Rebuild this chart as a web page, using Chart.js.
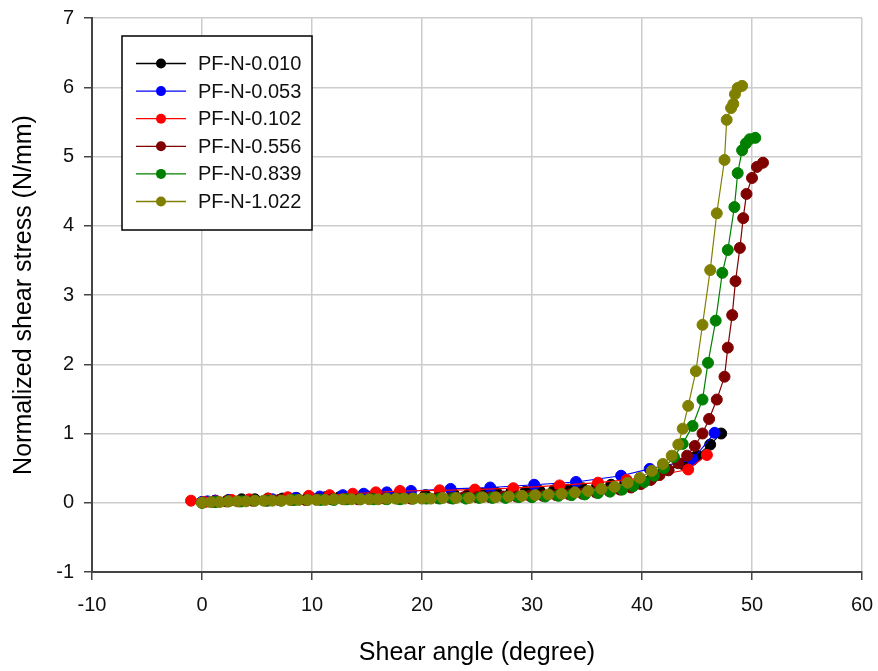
<!DOCTYPE html>
<html>
<head>
<meta charset="utf-8">
<script src="https://cdn.jsdelivr.net/npm/chart.js@4.4.0/dist/chart.umd.min.js"></script>
<style>
  body { margin: 0; background: #fff; }
  canvas { display: block; }
</style>
</head>
<body>
<canvas id="nchart" width="878" height="671"></canvas>
<script>
// shear angle (deg) and normalized shear stress (N/mm) for each sample
const labels = ["PF-N-0.010", "PF-N-0.053", "PF-N-0.102", "PF-N-0.556", "PF-N-0.839", "PF-N-1.022"];
const colors = ["#000000", "#0000ff", "#ff0000", "#800000", "#008000", "#808000"];

const angle010 = [0, 1.2, 2.4, 3.6, 4.8, 6.0, 7.3, 8.6, 9.9, 11.2, 12.5, 13.8, 15.1, 16.4, 17.7, 19.0, 20.3, 21.6, 22.9, 24.2,
  25.5, 26.8, 28.1, 29.4, 30.7, 32.0, 33.3, 34.6, 35.9, 37.2, 38.5, 39.8, 41.1, 42.4, 43.7, 45.0, 46.2, 47.2];
const stress010 = [0.01, 0.03, 0.04, 0.05, 0.05, 0.06, 0.06, 0.07, 0.07, 0.08, 0.08, 0.08, 0.09, 0.09, 0.1, 0.1, 0.11, 0.11, 0.12, 0.12,
  0.13, 0.14, 0.15, 0.16, 0.17, 0.18, 0.19, 0.21, 0.23, 0.26, 0.3, 0.34, 0.4, 0.47, 0.56, 0.68, 0.84, 1.0];

const angle053 = [0, 0.5, 1.2, 2.5, 4.2, 6.4, 8.5, 10.7, 12.8, 14.7, 16.8, 19.0, 22.6, 26.2, 30.2, 34.0, 38.1, 40.7, 44.6, 46.6];
const stress053 = [0.01, 0.02, 0.03, 0.04, 0.04, 0.05, 0.07, 0.09, 0.11, 0.13, 0.15, 0.17, 0.2, 0.22, 0.26, 0.3, 0.39, 0.49, 0.62, 1.01];

const angle102 = [-1.0, 0.2, 1.3, 2.7, 4.3, 6.0, 7.8, 9.7, 11.6, 13.7, 15.8, 18.0, 21.6, 24.8, 28.3, 32.5, 36.0, 38.6, 41.2, 44.2, 45.9];
const stress102 = [0.03, 0.01, 0.02, 0.04, 0.05, 0.06, 0.08, 0.1, 0.11, 0.13, 0.15, 0.17, 0.18, 0.19, 0.21, 0.25, 0.29, 0.33, 0.39, 0.48, 0.69];

const angle556 = [0, 1.1, 2.2, 3.4, 4.6, 5.8, 7.0, 8.2, 9.4, 10.6, 11.8, 13.0, 14.2, 15.4, 16.6, 17.8, 19.0, 20.2, 21.4, 22.6,
  23.8, 25.0, 26.2, 27.4, 28.6, 29.8, 31.0, 32.2, 33.4, 34.6, 35.8, 37.0, 38.0, 39.0, 39.9, 40.8, 41.6, 42.4, 43.3, 44.1,
  44.8, 45.5, 46.1, 46.8, 47.5, 47.8, 48.2, 48.5, 48.9, 49.2, 49.5, 50.0, 50.45, 51.0];
const stress556 = [0.0, 0.01, 0.02, 0.02, 0.03, 0.03, 0.04, 0.04, 0.04, 0.05, 0.05, 0.05, 0.05, 0.06, 0.06, 0.06, 0.06, 0.07, 0.07, 0.07,
  0.08, 0.08, 0.08, 0.09, 0.09, 0.1, 0.1, 0.11, 0.12, 0.13, 0.15, 0.17, 0.19, 0.22, 0.27, 0.33, 0.4, 0.47, 0.57, 0.68,
  0.82, 1.0, 1.21, 1.49, 1.82, 2.24, 2.71, 3.2, 3.68, 4.11, 4.46, 4.69, 4.85, 4.91];

const angle839 = [0, 1.2, 2.4, 3.6, 4.8, 6.0, 7.2, 8.4, 9.6, 10.8, 12.0, 13.2, 14.4, 15.6, 16.8, 18.0, 19.2, 20.4, 21.6, 22.8,
  24.0, 25.2, 26.4, 27.6, 28.8, 30.0, 31.2, 32.4, 33.6, 34.8, 36.0, 37.1, 38.2, 39.2, 40.2, 41.1, 42.0, 42.9, 43.7, 44.6,
  45.5, 46.0, 46.7, 47.3, 47.8, 48.4, 48.7, 49.1, 49.45, 49.8, 50.3];
const stress839 = [0.0, 0.01, 0.02, 0.02, 0.03, 0.03, 0.03, 0.04, 0.04, 0.04, 0.04, 0.05, 0.05, 0.05, 0.05, 0.05, 0.06, 0.06, 0.06, 0.06,
  0.06, 0.07, 0.07, 0.07, 0.08, 0.08, 0.09, 0.1, 0.11, 0.12, 0.14, 0.16, 0.19, 0.24, 0.3, 0.39, 0.5, 0.66, 0.85, 1.11,
  1.49, 2.02, 2.63, 3.32, 3.65, 4.27, 4.76, 5.09, 5.19, 5.25, 5.27];

const angle1022 = [0, 0.8, 1.6, 2.4, 3.2, 4.0, 4.8, 5.6, 6.4, 7.2, 8.0, 8.8, 9.6, 10.4, 11.2, 12.0, 12.8, 13.6, 14.4, 15.2,
  16.0, 16.8, 17.6, 18.4, 19.2, 20.0, 20.8, 21.9, 23.1, 24.3, 25.5, 26.7, 27.9, 29.1, 30.3, 31.5, 32.7, 33.9, 35.1, 36.3,
  37.5, 38.7, 39.8, 40.9, 41.9, 42.7, 43.3, 43.7, 44.2, 44.9, 45.5, 46.2, 46.8, 47.5, 47.7, 48.1, 48.3, 48.45, 48.7, 49.1];
const stress1022 = [0.0, 0.01, 0.01, 0.02, 0.02, 0.02, 0.03, 0.03, 0.03, 0.03, 0.04, 0.04, 0.04, 0.04, 0.04, 0.05, 0.05, 0.05, 0.05, 0.05,
  0.05, 0.06, 0.06, 0.06, 0.06, 0.06, 0.06, 0.07, 0.07, 0.07, 0.08, 0.08, 0.09, 0.1, 0.11, 0.12, 0.13, 0.15, 0.17, 0.2,
  0.23, 0.29, 0.36, 0.46, 0.56, 0.68, 0.84, 1.07, 1.40, 1.90, 2.57, 3.36, 4.18, 4.95, 5.53, 5.70, 5.76, 5.90, 5.99, 6.02];

const angles = [angle010, angle053, angle102, angle556, angle839, angle1022];
const stresses = [stress010, stress053, stress102, stress556, stress839, stress1022];

const xTicks = [-10, 0, 10, 20, 30, 40, 50, 60];
const yTicks = [-1, 0, 1, 2, 3, 4, 5, 6, 7];

Chart.defaults.font.family = "'Liberation Sans', Arial, sans-serif";
Chart.defaults.color = "#111";

function points(xs, ys) {
    return xs.map((x, i) => ({ x: x, y: ys[i] }));
}

// later series are painted over earlier ones
const datasets = labels.map((name, i) => ({
    label: name,
    data: points(angles[i], stresses[i]),
    borderColor: colors[i],
    backgroundColor: colors[i],
    pointBackgroundColor: colors[i],
    pointBorderColor: colors[i],
    borderWidth: 1.2,
    pointRadius: 5.5,
    pointBorderWidth: 1,
    order: labels.length - i
}));

// boxed legend inside the plot, top left
const legendBox = {
    id: "legendBox",
    afterDraw(chart) {
        const ctx = chart.ctx;
        ctx.save();
        ctx.fillStyle = "#fff";
        ctx.fillRect(122, 36, 190, 194);
        ctx.strokeStyle = "#000";
        ctx.lineWidth = 1.5;
        ctx.strokeRect(122, 36, 190, 194);
        ctx.font = "20px 'Liberation Sans', Arial, sans-serif";
        ctx.textBaseline = "middle";
        chart.data.datasets.forEach((ds, i) => {
            let y = 63.5 + i * 27.6;
            ctx.strokeStyle = ds.borderColor;
            ctx.lineWidth = 1.3;
            ctx.beginPath();
            ctx.moveTo(136, y);
            ctx.lineTo(186, y);
            ctx.stroke();
            ctx.fillStyle = ds.borderColor;
            ctx.beginPath();
            ctx.arc(161, y, 5, 0, Math.PI * 2);
            ctx.fill();
            ctx.fillStyle = "#111";
            ctx.fillText(ds.label, 198, y + 1);
        });
        ctx.restore();
    }
};

var ctx = document.getElementById("nchart");
var chartGraph = new Chart(ctx, {
    type: "scatter",
    data: { datasets: datasets },
    options: {
        responsive: false,
        animation: false,
        showLine: true,
        layout: { padding: { top: 18, right: 16, left: 0, bottom: 0 } },
        plugins: {
            legend: { display: false },
            tooltip: { enabled: false }
        },
        scales: {
            x: {
                type: "linear",
                min: xTicks[0],
                max: xTicks[xTicks.length - 1],
                afterBuildTicks: (scale) => { scale.ticks = xTicks.map(v => ({ value: v })); },
                afterFit: (scale) => {
                    scale.height = 99;
                    scale.paddingLeft = 0;
                    scale.paddingRight = 0;
                },
                ticks: { font: { size: 20 }, padding: 13, color: "#111" },
                grid: { color: "#cccccc", lineWidth: 1.5, tickLength: 8, tickColor: "#444", tickWidth: 1.5 },
                border: { color: "#444", width: 2 },
                title: {
                    display: true,
                    text: "Shear angle (degree)",
                    font: { size: 25 },
                    color: "#000",
                    padding: { top: 0, bottom: 3 }
                }
            },
            y: {
                type: "linear",
                min: yTicks[0],
                max: yTicks[yTicks.length - 1],
                afterBuildTicks: (scale) => { scale.ticks = yTicks.map(v => ({ value: v })); },
                afterFit: (scale) => {
                    scale.width = 92;
                    scale.paddingTop = 0;
                    scale.paddingBottom = 0;
                },
                ticks: { font: { size: 20 }, padding: 10, color: "#111" },
                grid: { color: "#cccccc", lineWidth: 1.5, tickLength: 8, tickColor: "#444", tickWidth: 1.5 },
                border: { color: "#444", width: 2 },
                title: {
                    display: true,
                    text: "Normalized shear stress (N/mm)",
                    font: { size: 25 },
                    color: "#000",
                    padding: { top: 9, bottom: 0 }
                }
            }
        }
    },
    plugins: [legendBox]
});
</script>
</body>
</html>
